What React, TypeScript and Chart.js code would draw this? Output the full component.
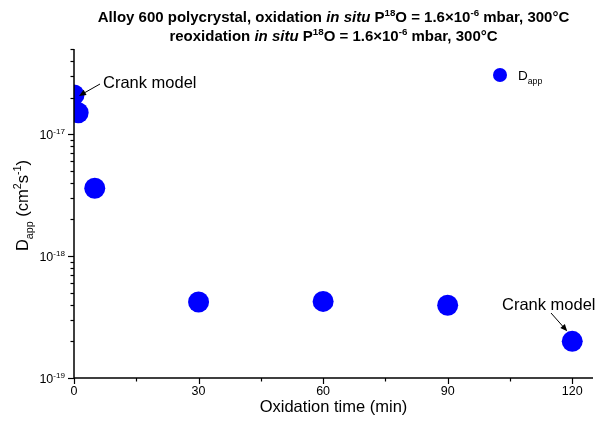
import React, { useEffect, useRef } from "react";
import { Chart, registerables } from "chart.js";

Chart.register(...registerables);

// ---- data ----
const times = [0, 1, 5, 30, 60, 90, 120];
const dApp = [2.1e-17, 1.5e-17, 3.6e-18, 4.2e-19, 4.25e-19, 3.95e-19, 2.0e-19];
const xMajorTicks = [0, 30, 60, 90, 120];
const xMinorTicks = [15, 45, 75, 105];
const yDecadeExponents = [-19, -18, -17];
const yMinorMantissas = [2, 3, 4, 5, 6, 7, 8, 9];
const xMin = 0;
const xMax = 125;
const yMin = 1e-19;
const yMax = 5e-17;
const seriesMain = "D";
const seriesSub = "app";
const xTitle = "Oxidation time (min)";
const annotationText = "Crank model";

type Seg = { t: string; it?: boolean; sup?: boolean; sub?: boolean };

const FAMILY = '"Liberation Sans", Arial, Helvetica, sans-serif';

const titleLine1: Seg[] = [
  { t: "Alloy 600 polycrystal, oxidation " },
  { t: "in situ", it: true },
  { t: " P" },
  { t: "18", sup: true },
  { t: "O = 1.6×10" },
  { t: "-6", sup: true },
  { t: " mbar, 300°C" },
];
const titleLine2: Seg[] = [
  { t: "reoxidation " },
  { t: "in situ", it: true },
  { t: " P" },
  { t: "18", sup: true },
  { t: "O = 1.6×10" },
  { t: "-6", sup: true },
  { t: " mbar, 300°C" },
];
const yTitle: Seg[] = [
  { t: seriesMain },
  { t: seriesSub, sub: true },
  { t: " (cm" },
  { t: "2", sup: true },
  { t: "s" },
  { t: "-1", sup: true },
  { t: ")" },
];

function segFont(s: Seg, size: number, bold: boolean) {
  const sz = s.sup || s.sub ? size * 0.65 : size;
  return `${s.it ? "italic " : ""}${bold ? "bold " : ""}${sz}px ${FAMILY}`;
}

function measureRich(ctx: CanvasRenderingContext2D, segs: Seg[], size: number, bold: boolean) {
  let w = 0;
  for (const s of segs) {
    ctx.font = segFont(s, size, bold);
    w += ctx.measureText(s.t).width;
  }
  return w;
}

function drawRich(
  ctx: CanvasRenderingContext2D,
  segs: Seg[],
  x: number,
  y: number,
  size: number,
  bold: boolean,
  align: "left" | "center" | "right"
) {
  const w = measureRich(ctx, segs, size, bold);
  let cx = align === "left" ? x : align === "center" ? x - w / 2 : x - w;
  ctx.textAlign = "left";
  ctx.textBaseline = "alphabetic";
  for (const s of segs) {
    ctx.font = segFont(s, size, bold);
    const dy = s.sup ? -size * 0.4 : s.sub ? size * 0.28 : 0;
    ctx.fillText(s.t, cx, y + dy);
    cx += ctx.measureText(s.t).width;
  }
}

function drawArrow(ctx: CanvasRenderingContext2D, x1: number, y1: number, x2: number, y2: number) {
  const ang = Math.atan2(y2 - y1, x2 - x1);
  const hl = 7;
  const hw = 3;
  ctx.strokeStyle = "#000";
  ctx.lineWidth = 1;
  ctx.beginPath();
  ctx.moveTo(x1, y1);
  ctx.lineTo(x2 - Math.cos(ang) * hl * 0.8, y2 - Math.sin(ang) * hl * 0.8);
  ctx.stroke();
  ctx.fillStyle = "#000";
  ctx.beginPath();
  ctx.moveTo(x2, y2);
  ctx.lineTo(x2 - Math.cos(ang) * hl - Math.sin(ang) * hw, y2 - Math.sin(ang) * hl + Math.cos(ang) * hw);
  ctx.lineTo(x2 - Math.cos(ang) * hl + Math.sin(ang) * hw, y2 - Math.sin(ang) * hl - Math.cos(ang) * hw);
  ctx.closePath();
  ctx.fill();
}

const decorPlugin = {
  id: "decor",
  afterDatasetsDraw(chart: any) {
    const ctx: CanvasRenderingContext2D = chart.ctx;
    const xs = chart.scales.x;
    const ys = chart.scales.y;
    const area = chart.chartArea;
    ctx.save();
    ctx.fillStyle = "#000";
    ctx.strokeStyle = "#000";

    // axis lines
    ctx.lineWidth = 1.5;
    ctx.beginPath();
    ctx.moveTo(area.left, area.top);
    ctx.lineTo(area.left, area.bottom);
    ctx.lineTo(area.right, area.bottom);
    ctx.stroke();

    // x ticks
    ctx.lineWidth = 1.2;
    for (const v of xMajorTicks) {
      const px = Math.round(xs.getPixelForValue(v)) + 0.5;
      ctx.beginPath();
      ctx.moveTo(px, area.bottom);
      ctx.lineTo(px, area.bottom + 6);
      ctx.stroke();
    }
    for (const v of xMinorTicks) {
      const px = Math.round(xs.getPixelForValue(v)) + 0.5;
      ctx.beginPath();
      ctx.moveTo(px, area.bottom);
      ctx.lineTo(px, area.bottom + 3.5);
      ctx.stroke();
    }
    ctx.font = `12.5px ${FAMILY}`;
    ctx.textAlign = "center";
    ctx.textBaseline = "middle";
    for (const v of xMajorTicks) {
      ctx.fillText(String(v), xs.getPixelForValue(v), area.bottom + 14);
    }

    // y ticks
    for (const e of yDecadeExponents) {
      const py = Math.round(ys.getPixelForValue(Math.pow(10, e))) + 0.5;
      ctx.beginPath();
      ctx.moveTo(area.left, py);
      ctx.lineTo(area.left - 6, py);
      ctx.stroke();
      drawRich(
        ctx,
        [{ t: "10" }, { t: String(e), sup: true }],
        area.left - 9,
        py + 4.5,
        12.5,
        false,
        "right"
      );
      for (const m of yMinorMantissas) {
        const val = m * Math.pow(10, e);
        if (val > yMax * 1.0001) continue;
        const pm = Math.round(ys.getPixelForValue(val)) + 0.5;
        ctx.beginPath();
        ctx.moveTo(area.left, pm);
        ctx.lineTo(area.left - 3.5, pm);
        ctx.stroke();
      }
    }

    // axis titles
    ctx.fillStyle = "#000";
    ctx.font = `16.5px ${FAMILY}`;
    ctx.textAlign = "center";
    ctx.textBaseline = "middle";
    ctx.fillText(xTitle, (area.left + area.right) / 2, 407);

    ctx.save();
    ctx.translate(28, (area.top + area.bottom) / 2 - 8);
    ctx.rotate(-Math.PI / 2);
    drawRich(ctx, yTitle, 0, 0, 16.5, false, "center");
    ctx.restore();

    // title
    const cx = (area.left + area.right) / 2;
    drawRich(ctx, titleLine1, cx, 21.5, 15, true, "center");
    drawRich(ctx, titleLine2, cx, 40.5, 15, true, "center");

    // legend
    ctx.fillStyle = "#0000ff";
    ctx.beginPath();
    ctx.arc(500, 75, 7, 0, Math.PI * 2);
    ctx.fill();
    ctx.fillStyle = "#000";
    drawRich(ctx, [{ t: seriesMain }, { t: seriesSub, sub: true }], 518, 80, 13.5, false, "left");

    // annotations
    const p0x = xs.getPixelForValue(times[0]);
    const p0y = ys.getPixelForValue(dApp[0]);
    ctx.font = `16.5px ${FAMILY}`;
    ctx.textAlign = "left";
    ctx.textBaseline = "middle";
    ctx.fillText(annotationText, 103, 83);
    drawArrow(ctx, 100, 84, p0x + 5, p0y + 1);

    const last = times.length - 1;
    const plx = xs.getPixelForValue(times[last]);
    const ply = ys.getPixelForValue(dApp[last]);
    ctx.fillText(annotationText, 502, 305);
    drawArrow(ctx, 551, 313, plx - 5, ply - 10);

    ctx.restore();
  },
};

export default function App() {
  const ref = useRef<HTMLCanvasElement | null>(null);
  useEffect(() => {
    document.body.style.margin = "0";
    if (!ref.current) return;
    const chart = new Chart(ref.current, {
      type: "scatter",
      data: {
        datasets: [
          {
            label: seriesMain + seriesSub,
            data: times.map((t, i) => ({ x: t, y: dApp[i] })),
            backgroundColor: "#0000ff",
            borderColor: "#0000ff",
            pointRadius: 10.5,
            pointHoverRadius: 10.5,
            borderWidth: 0,
            clip: 0,
          } as any,
        ],
      },
      options: {
        animation: false,
        responsive: false,
        devicePixelRatio: 1,
        layout: { autoPadding: false, padding: { top: 49, left: 0, right: 3, bottom: 0 } },
        plugins: { legend: { display: false }, tooltip: { enabled: false }, title: { display: false } },
        events: [],
        scales: {
          x: {
            type: "linear",
            min: xMin,
            max: xMax,
            ticks: { display: false },
            grid: { display: false },
            border: { display: false },
            afterFit: (s: any) => {
              s.height = 54;
            },
          },
          y: {
            type: "logarithmic",
            min: yMin,
            max: yMax,
            ticks: { display: false },
            grid: { display: false },
            border: { display: false },
            afterFit: (s: any) => {
              s.width = 74;
            },
          },
        },
      } as any,
      plugins: [decorPlugin],
    });
    return () => chart.destroy();
  }, []);
  return (
    <div style={{ width: 596, height: 432, background: "#fff" }}>
      <canvas ref={ref} width={596} height={432} style={{ display: "block" }} />
    </div>
  );
}
